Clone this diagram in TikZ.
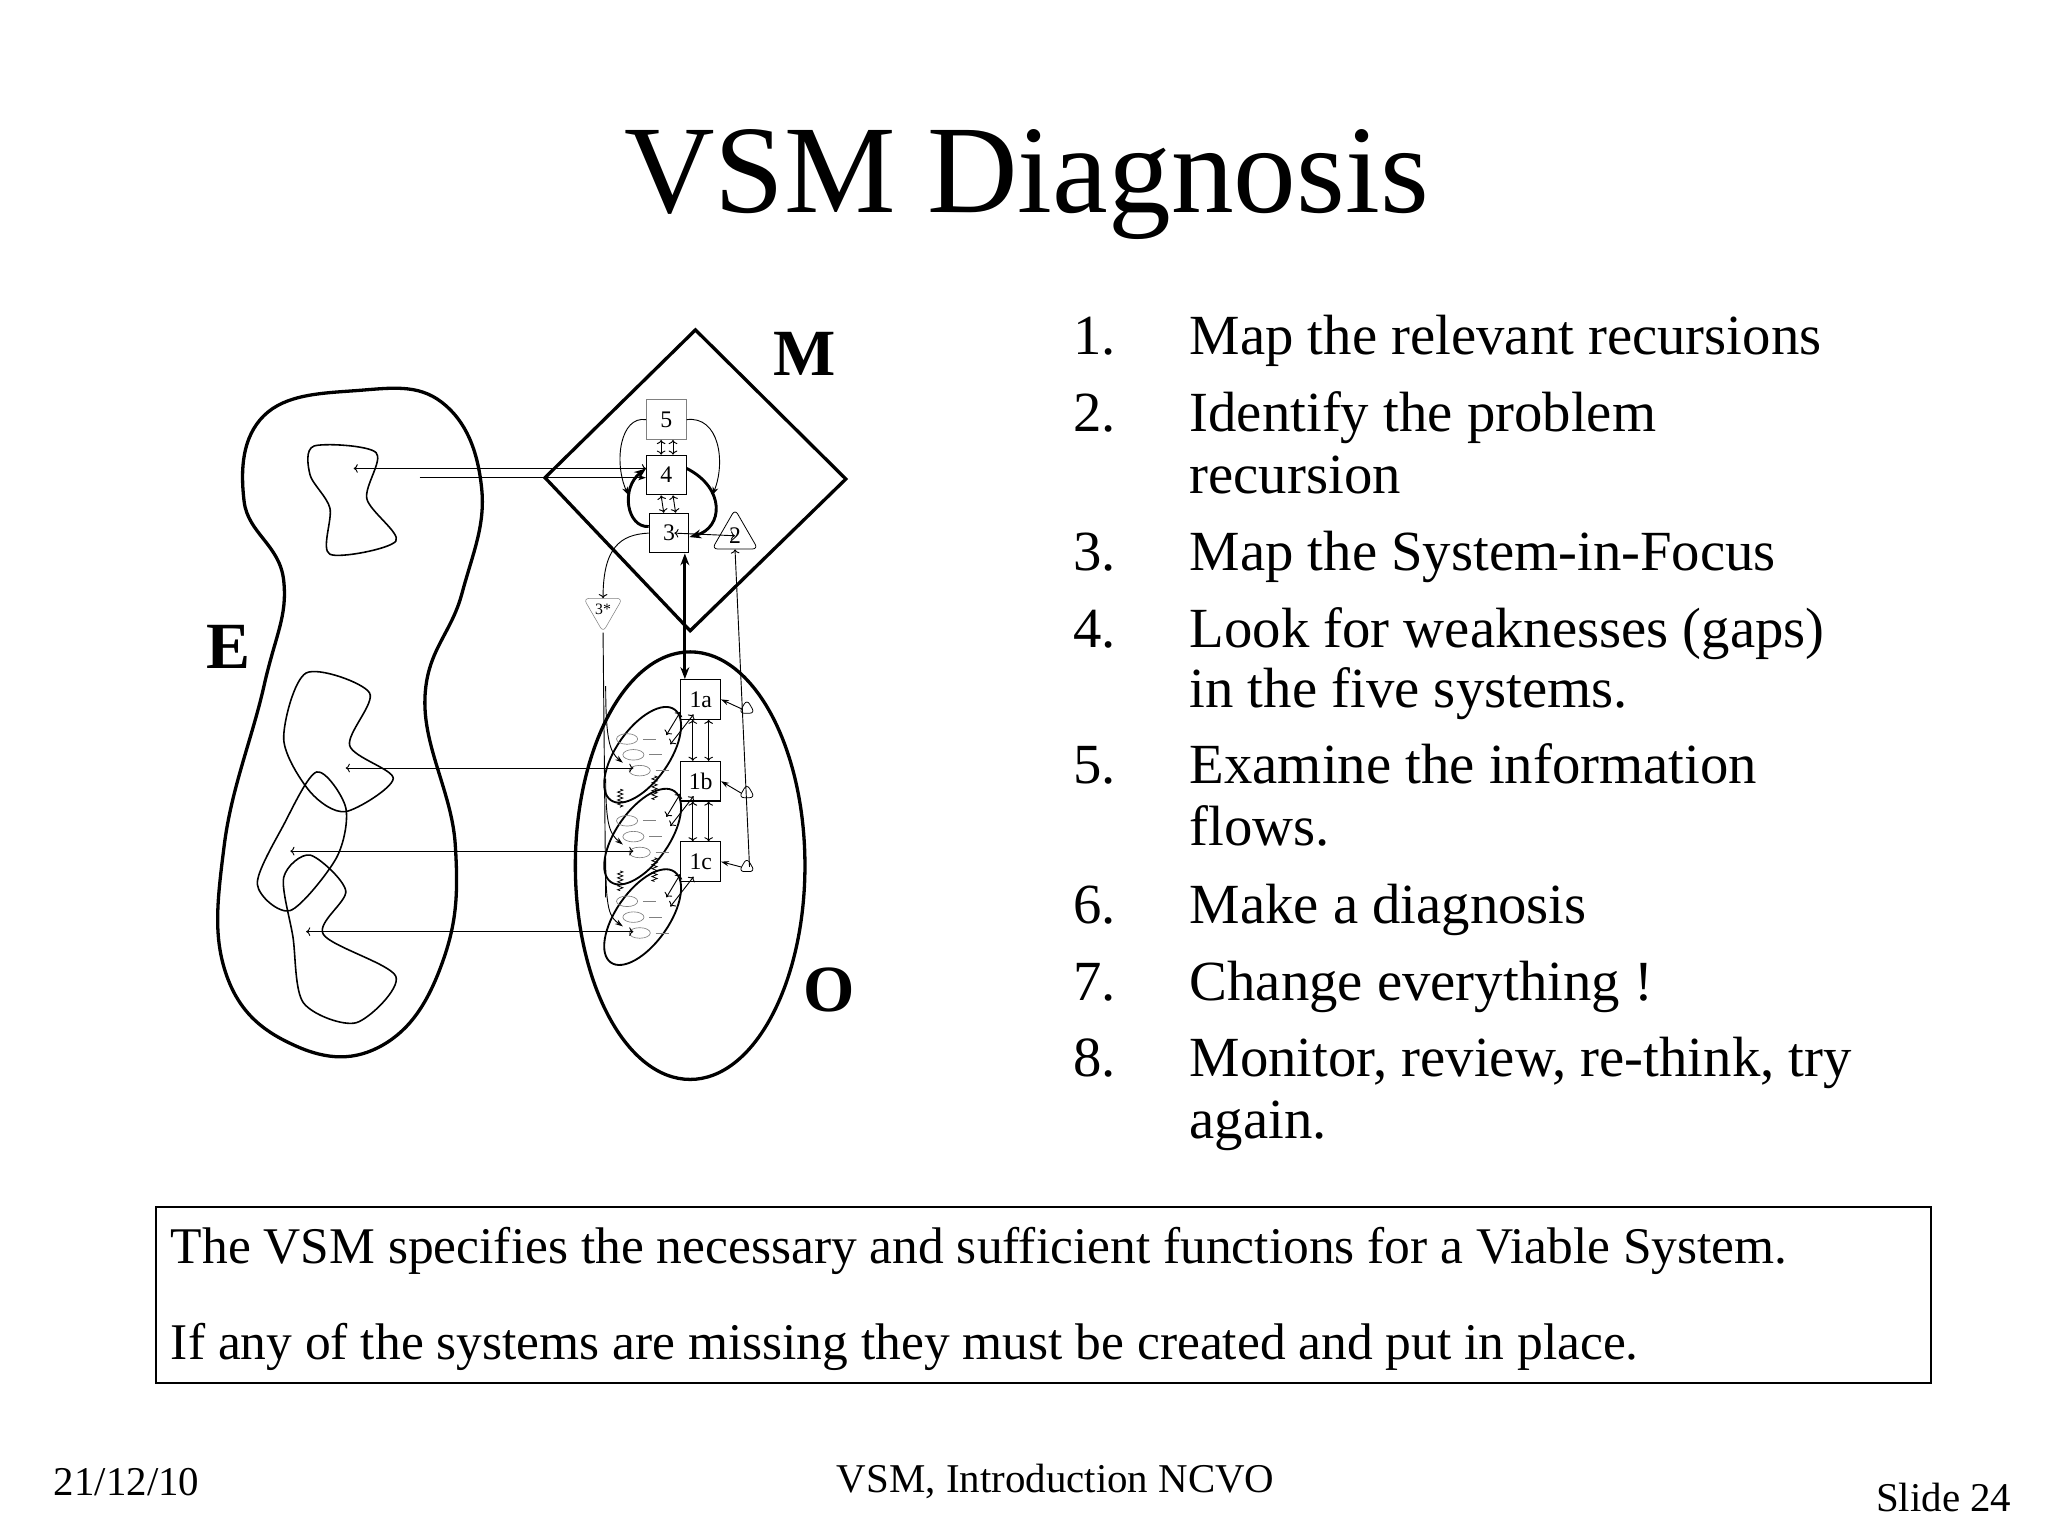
\documentclass[tikz,border=0pt]{standalone}
\usepackage{fontspec}
\setmainfont{Liberation Serif}
\usetikzlibrary{arrows.meta,decorations.pathmorphing,shapes.geometric}
\begin{document}
\begin{tikzpicture}[x=1pt,y=-1pt,
  sbox/.style={draw,minimum width=30pt,minimum height=30pt,inner sep=0pt,font=\fontsize{18}{18}\selectfont,line width=0.8pt},
  tri/.style={draw,regular polygon,regular polygon sides=3,rounded corners=4pt,inner sep=0pt,minimum size=14pt,line width=0.6pt},
  thin/.style={line width=0.7pt},
  ar/.style={-{Stealth[length=6pt,width=4pt]},line width=0.7pt},
  lst/.style={anchor=base west,font=\fontsize{43}{50}\selectfont},
  big/.style={font=\fontsize{50}{50}\selectfont\bfseries}]
\useasboundingbox (0,0) rectangle (1552,1164);
\node[font=\fontsize{95}{100}\selectfont] (title) at (778,140) {VSM Diagnosis};
% E blob
\draw[line width=2.5pt] plot[smooth cycle,tension=0.7] coordinates{(270,296)(335,305)(365,370)(350,450)(322,530)(345,640)(335,730)(290,792)(225,793)(172,740)(170,640)(200,520)(215,440)(185,380)(200,315)};
\draw[line width=1.2pt] plot[smooth cycle] coordinates{(238,338)(285,343)(278,378)(300,410)(250,420)(250,385)(235,360)};
\draw[line width=1.2pt] plot[smooth cycle] coordinates{(232,510)(280,525)(265,565)(298,590)(262,615)(235,600)(215,560)};
\draw[line width=1.2pt] plot[smooth cycle] coordinates{(240,585)(262,612)(255,650)(220,690)(195,670)(215,625)};
\draw[line width=1.2pt] plot[smooth cycle] coordinates{(235,648)(262,675)(245,708)(300,740)(270,775)(230,760)(222,710)(215,665)};
\node[big] (E) at (173,490) {E};
% M diamond
\draw[line width=2.5pt] (527,250) -- (641,363) -- (523,478) -- (413,362) -- cycle;
\node[big] (M) at (610,268) {M};
\node[sbox,draw=gray] (s5) at (505,318) {5};
\node[sbox] (s4) at (505,360) {4};
\node[sbox] (s3) at (507,404) {3};
\node[tri,minimum size=40pt,font=\fontsize{18}{18}\selectfont] (s2) at (557,406) {2};
\node[draw=gray,regular polygon,regular polygon sides=3,shape border rotate=180,rounded corners=4pt,inner sep=0pt,minimum size=26pt,font=\fontsize{12}{12}\selectfont] (s3s) at (457,462) {3*};
\draw[ar,<->] ([xshift=-4pt]s5.south) -- ([xshift=-4pt]s4.north);
\draw[ar,<->] ([xshift=5pt]s5.south) -- ([xshift=5pt]s4.north);
\draw[ar,<->] ([xshift=-4pt]s4.south) -- ([xshift=-4pt]s3.north);
\draw[ar,<->] ([xshift=5pt]s4.south) -- ([xshift=5pt]s3.north);
\draw[thin,-{Stealth[length=6pt]}] (s5.west) .. controls (470,315) and (465,350) .. (476,375);
\draw[thin,-{Stealth[length=6pt]}] (s5.east) .. controls (545,315) and (550,350) .. (540,375);
\draw[line width=2.2pt,-{Stealth[length=9pt]}] ([yshift=5pt]s3.west) .. controls (475,400) and (470,370) .. ([yshift=5pt]s4.west);
\draw[line width=2.2pt,-{Stealth[length=9pt]}] ([yshift=5pt]s4.east) .. controls (550,370) and (548,400) .. ([yshift=-3pt]s3.east);
\draw[ar,<->] ([xshift=4pt]s3.center) -- (s2.center);
\draw[thin,->] (s3.west) .. controls (470,405) and (457,415) .. (s3s.north);
% O ellipse
\draw[line width=2.5pt] (523,656) ellipse[x radius=87, y radius=162];
\node[big] (O) at (628,750) {O};
\node[sbox] (a) at (531,530) {1a};
\node[sbox] (b) at (531,592) {1b};
\node[sbox] (c) at (531,653) {1c};
\draw[line width=2.2pt,{Stealth[length=9pt]}-{Stealth[length=9pt]}] (s3.south -| 519,0) -- (a.north -| 519,0);
\draw[ar,<->] ([xshift=-6pt]a.south) -- ([xshift=-6pt]b.north);
\draw[ar,<->] ([xshift=6pt]a.south) -- ([xshift=6pt]b.north);
\draw[ar,<->] ([xshift=-6pt]b.south) -- ([xshift=-6pt]c.north);
\draw[ar,<->] ([xshift=6pt]b.south) -- ([xshift=6pt]c.north);
\node[tri] (ta) at (566,537) {};
\node[tri] (tb) at (566,601) {};
\node[tri] (tc) at (566,657) {};
\draw[thin,->] (568,657) -- (s2.south);
\draw[ar] (ta.west) -- (a.east);
\draw[ar] (tb.west) -- (b.east);
\draw[ar] (tc.west) -- (c.east);
\foreach \y/\bx in {572/a,634/b,695/c}{
  \draw[line width=1.4pt,rotate around={55:(487,\y)}] (487,\y) ellipse[x radius=42, y radius=20];
  \foreach \dy in {-12,0,12}{
    \draw[gray,line width=0.5pt] (480+\dy*0.4,\y+\dy) ellipse[x radius=8, y radius=4];
    \draw[gray,line width=0.5pt] (492+\dy*0.4,\y+\dy) -- (502+\dy*0.4,\y+\dy);
  }
  \draw[ar,<->] (\bx.south west) ++(0,-6) -- (505,\y-15);
  \draw[ar,<->] (\bx.south west) ++(10,-4) -- (508,\y-8);
}
\draw[thin] (s3s.south) -- (459,680);
\draw[ar] (459,520) .. controls (459,560) and (462,570) .. (472,578);
\draw[ar] (459,590) .. controls (459,625) and (462,632) .. (472,640);
\draw[ar] (459,650) .. controls (459,690) and (462,695) .. (472,702);
\foreach \xx/\ya/\yb in {470/598/612,496/588/606,470/660/675,496/650/668}
  \draw[line width=0.6pt,decorate,decoration={zigzag,amplitude=2pt,segment length=3pt}] (\xx,\ya) -- (\xx,\yb);
% E-M/O connectors
\draw[ar,<->] (268,355) -- (s4.west|-0,355);
\draw[ar] (318,362) -- (s4.west|-0,362);
\draw[ar,<->] (262,582) -- (480,582);
\draw[ar,<->] (220,645) -- (480,645);
\draw[ar,<->] (232,706) -- (480,706);
% list
\foreach \n/\y/\t in {1/255/Map the relevant recursions,2/313/Identify the problem,3/418/Map the System-in-Focus,4/477/Look for weaknesses (gaps),5/580/Examine the information,6/686/Make a diagnosis,7/744/Change everything !,8/802/{Monitor, review, re-think, try}}{
  \node[lst] (n\n) at (810,\y+14) {\n.};
  \node[lst] (t\n) at (898,\y+14) {\t};
}
\node[lst] (t2b) at (898,374) {recursion};
\node[lst] (t4b) at (898,536) {in the five systems.};
\node[lst] (t5b) at (898,641) {flows.};
\node[lst] (t8b) at (898,863) {again.};
% box
\draw[line width=1.5pt] (118,915) rectangle (1463,1048);
\node[anchor=west,font=\fontsize{39}{40}\selectfont] (b1) at (126,948) {The VSM specifies the necessary and sufficient functions for a Viable System.};
\node[anchor=west,font=\fontsize{39}{40}\selectfont] (b2) at (126,1021) {If any of the systems are missing they must be created and put in place.};
% footer
\node[font=\fontsize{31}{32}\selectfont] (d) at (96,1123) {21/12/10};
\node[font=\fontsize{31}{32}\selectfont] (f) at (800,1123) {VSM, Introduction NCVO};
\node[font=\fontsize{31}{32}\selectfont] (sl) at (1473,1135) {Slide 24};
\end{tikzpicture}
\end{document}
